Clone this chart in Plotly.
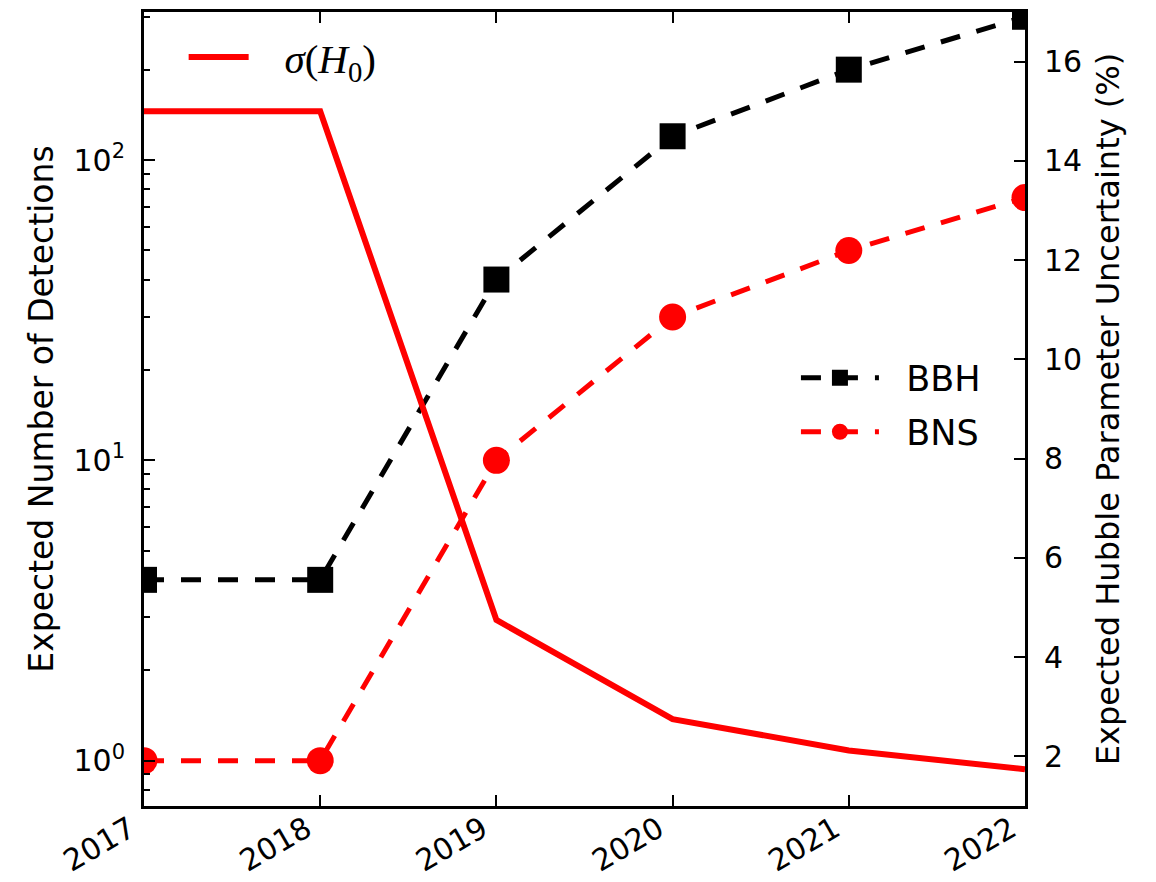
import plotly.graph_objects as go

years = [2017, 2018, 2019, 2020, 2021, 2022]
bbh = [4, 4, 40, 120, 200, 300]
bns = [1, 1, 10, 30, 50, 75]
sigma_h0 = [15, 15, 4.75, 2.75, 2.12, 1.74]

left_tickvals = [1, 10, 100]
left_ticktext = ["10<sup>0</sup>", "10<sup>1</sup>", "10<sup>2</sup>"]
left_minor_tickvals = [0.8, 0.9, 2, 3, 4, 5, 6, 7, 8, 9,
                       20, 30, 40, 50, 60, 70, 80, 90, 200, 300]
right_tickvals = [2, 4, 6, 8, 10, 12, 14, 16]
x_tickvals = years
x_ticktext = [str(y) for y in years]

FONT = "DejaVu Sans"
TICK = 30
DASH = "20px,17px"
NB = "\u00a0"

fig = go.Figure()
fig.add_trace(go.Scatter(
    x=years, y=bbh, name=NB * 2 + "BBH", mode="lines+markers",
    line=dict(color="black", width=5, dash=DASH),
    marker=dict(symbol="square", size=26, color="black"),
    legend="legend2", yaxis="y", showlegend=True))
fig.add_trace(go.Scatter(
    x=years, y=bns, name=NB * 2 + "BNS", mode="lines+markers",
    line=dict(color="red", width=5, dash=DASH),
    marker=dict(symbol="circle", size=27, color="red"),
    legend="legend3", yaxis="y", showlegend=True))
fig.add_trace(go.Scatter(
    x=years, y=sigma_h0, name=NB * 3 + "<i>σ</i>(<i>H</i><sub>0</sub>)",
    mode="lines",
    line=dict(color="red", width=6),
    legend="legend", yaxis="y2", showlegend=True))

axis_common = dict(showline=True, linecolor="black", linewidth=3,
                   ticks="inside", tickcolor="black", tickwidth=1.5,
                   ticklen=11, showgrid=False, zeroline=False,
                   automargin=False,
                   tickfont=dict(family=FONT, size=TICK, color="black"))

fig.update_layout(
    width=1156, height=882,
    margin=dict(l=144, r=131, t=12, b=76),
    showlegend=True,
    paper_bgcolor="white", plot_bgcolor="white",
    font=dict(family=FONT, color="black"),
    xaxis=dict(range=[2017, 2022], tickvals=x_tickvals, ticktext=x_ticktext,
               tickangle=-30, mirror="ticks", ticklabelstandoff=-9,
               ticklabelshift=-14,
               **axis_common),
    yaxis=dict(type="log", range=[-0.151, 2.493], tickvals=left_tickvals,
               ticktext=left_ticktext, ticklabelstandoff=10,
               minor=dict(ticks="inside", ticklen=6, tickcolor="black",
                          tickwidth=1.5, showgrid=False,
                          tickvals=left_minor_tickvals),
               title=dict(text="Expected Number of Detections",
                          font=dict(family=FONT, size=33, color="black"),
                          standoff=10),
               **axis_common),
    yaxis2=dict(overlaying="y", side="right", range=[1, 17],
                tickvals=right_tickvals, ticklabelstandoff=10,
                title=dict(text="Expected Hubble Parameter Uncertainty (%)",
                           font=dict(family=FONT, size=32, color="black"),
                           standoff=16),
                **axis_common),
    legend=dict(x=0.045, y=0.943, xanchor="left", yanchor="middle",
                bgcolor="rgba(0,0,0,0)", itemwidth=60,
                font=dict(family="Liberation Serif", size=41, color="black")),
    legend2=dict(x=0.740, y=0.539, xanchor="left", yanchor="middle",
                 bgcolor="rgba(0,0,0,0)", itemwidth=78,
                 font=dict(family=FONT, size=35, color="black")),
    legend3=dict(x=0.740, y=0.471, xanchor="left", yanchor="middle",
                 bgcolor="rgba(0,0,0,0)", itemwidth=78,
                 font=dict(family=FONT, size=35, color="black")),
)

fig.write_html("out.html")
